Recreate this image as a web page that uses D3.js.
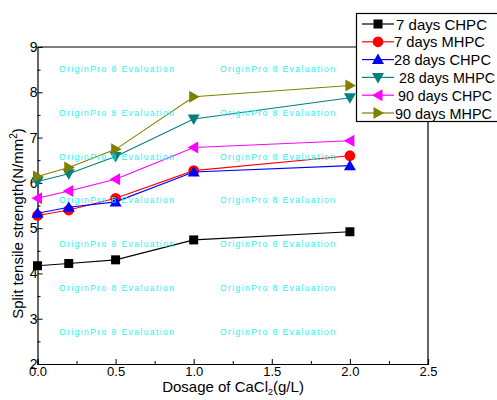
<!DOCTYPE html>
<html>
<head>
<meta charset="utf-8">
<script src="https://cdn.jsdelivr.net/npm/d3@7"></script>
<style>
  body { margin: 0; background: #fff; }
  text { font-family: Arial, "Liberation Sans", sans-serif; }
</style>
</head>
<body>
<script>
// dosage of CaCl2 (g/L)
const dosage = [0, 0.2, 0.5, 1.0, 2.0];

// split tensile strength values
const seriesNames = ['7 days CHPC', '7 days MHPC', '28 days CHPC', '28 days MHPC', '90 days CHPC', '90 days MHPC'];
const chpc7 = [4.17, 4.22, 4.30, 4.74, 4.92];
const mhpc7 = [5.28, 5.40, 5.66, 6.27, 6.60];
const chpc28 = [5.33, 5.46, 5.58, 6.24, 6.38];
const mhpc28 = [6.03, 6.20, 6.58, 7.41, 7.88];
const chpc90 = [5.66, 5.82, 6.08, 6.78, 6.93];
const mhpc90 = [6.14, 6.34, 6.74, 7.90, 8.15];

const xTicks = [0, 0.5, 1.0, 1.5, 2.0, 2.5];
const yTicks = [2, 3, 4, 5, 6, 7, 8, 9];

const W = 497, H = 400;
const LEFT = 37.5, RIGHT = 428, TOP = 47, BOTTOM = 364;

const colors = ['#000000', '#ff0000', '#0000ff', '#008080', '#ff00ff', '#808000'];
const shapes = ['square', 'circle', 'up', 'down', 'left', 'right'];
const allValues = [chpc7, mhpc7, chpc28, mhpc28, chpc90, mhpc90];

const svg = d3.select('body').append('svg')
  .attr('width', W)
  .attr('height', H);

const x = d3.scaleLinear().domain([0, 2.5]).range([LEFT, RIGHT]);
const y = d3.scaleLinear().domain([2, 9]).range([BOTTOM, TOP]);

// marker path generator, centred on 0,0
function marker(shape) {
  const s = 5.5;
  switch (shape) {
    case 'square': return `M${-4.5},${-4.5}h9v9h-9z`;
    case 'circle': return d3.symbol(d3.symbolCircle, 90)();
    case 'up': return `M0,${-s - 0.5}L${s + 0.5},${s - 1}L${-s - 0.5},${s - 1}z`;
    case 'down': return `M0,${s + 0.5}L${s + 0.5},${-s + 1}L${-s - 0.5},${-s + 1}z`;
    case 'left': return `M${-s - 0.5},0L${s - 1},${-s - 0.5}L${s - 1},${s + 0.5}z`;
    case 'right': return `M${s + 0.5},0L${-s + 1},${-s - 0.5}L${-s + 1},${s + 0.5}z`;
  }
}

// frame (top and right)
svg.append('path')
  .attr('d', `M${LEFT},${TOP}H${RIGHT}V${BOTTOM}`)
  .attr('fill', 'none')
  .attr('stroke', '#000')
  .attr('stroke-width', 1.2);

// axes
const yAxis = svg.append('g')
  .attr('transform', `translate(${LEFT},0)`)
  .call(d3.axisLeft(y).tickValues(yTicks).tickSize(-5).tickPadding(0).tickFormat(d3.format('d')));
yAxis.selectAll('text').attr('font-size', 14).attr('font-family', 'Arial, sans-serif').attr('fill', '#000');

const yMinor = svg.append('g')
  .attr('transform', `translate(${LEFT},0)`)
  .call(d3.axisLeft(y).tickValues(d3.range(2.5, 9, 1)).tickSize(-3).tickFormat(''));
yMinor.select('.domain').remove();

const xAxis = svg.append('g')
  .attr('transform', `translate(0,${BOTTOM})`)
  .call(d3.axisBottom(x).tickValues(xTicks).tickSize(-5).tickPadding(3).tickFormat(d3.format('.1f')));
xAxis.selectAll('text').attr('font-size', 13).attr('font-family', 'Arial, sans-serif').attr('fill', '#000');

const xMinor = svg.append('g')
  .attr('transform', `translate(0,${BOTTOM})`)
  .call(d3.axisBottom(x).tickValues(d3.range(0.25, 2.5, 0.5)).tickSize(-3).tickFormat(''));
xMinor.select('.domain').remove();

svg.selectAll('.domain').attr('stroke-width', 1.2);

// axis titles
svg.append('text')
  .attr('transform', `translate(23,${(TOP + BOTTOM) / 2 + 18}) rotate(-90)`)
  .attr('text-anchor', 'middle')
  .attr('font-size', 15)
  .html('Split tensile strength(N/mm<tspan dy="-6" font-size="10">2</tspan><tspan dy="6">)</tspan>');

svg.append('text')
  .attr('x', 233)
  .attr('y', 392)
  .attr('text-anchor', 'middle')
  .attr('font-size', 15)
  .html('Dosage of CaCl<tspan dy="3" font-size="9">2</tspan><tspan dy="-3">(g/L)</tspan>');

// series lines + markers
const line = d3.line().x((d, i) => x(dosage[i])).y(d => y(d));

allValues.forEach((vals, k) => {
  const g = svg.append('g');
  g.append('path')
    .datum(vals)
    .attr('d', line)
    .attr('fill', 'none')
    .attr('stroke', colors[k])
    .attr('stroke-width', 1.1);
  g.selectAll('path.mk')
    .data(vals)
    .enter()
    .append('path')
      .attr('class', 'mk')
      .attr('d', marker(shapes[k]))
      .attr('transform', (d, i) => `translate(${x(dosage[i])},${y(d)})`)
      .attr('fill', colors[k]);
});

// evaluation watermarks
const wmRows = [69, 113, 157, 200, 244, 288, 332];
const wmCols = [59, 220];
wmRows.forEach(r => {
  wmCols.forEach(c => {
    svg.append('text')
      .attr('x', c)
      .attr('y', r + 3)
      .attr('font-size', 8.5)
      .attr('fill', '#22f4f4')
      .attr('textLength', 115)
      .attr('lengthAdjust', 'spacing')
      .text('OriginPro 8 Evaluation');
  });
});

// legend
const legend = svg.append('g');
legend.append('rect')
  .attr('x', 356.5)
  .attr('y', 13.5)
  .attr('width', 145)
  .attr('height', 108)
  .attr('fill', '#fff')
  .attr('stroke', '#000')
  .attr('stroke-width', 1.2);

// text start and width of each legend entry, as placed in the original
const textX = [396, 394, 394, 399, 398, 395];
const textW = [91, 91, 97, 96, 94, 97];
seriesNames.forEach((name, k) => {
  const ly = 24 + k * 17.8;
  legend.append('line')
    .attr('x1', 362).attr('x2', 394)
    .attr('y1', ly).attr('y2', ly)
    .attr('stroke', colors[k])
    .attr('stroke-width', 1.2);
  legend.append('path')
    .attr('d', marker(shapes[k]))
    .attr('transform', `translate(378,${ly})`)
    .attr('fill', colors[k]);
  legend.append('text')
    .attr('x', textX[k])
    .attr('y', ly + 5.5)
    .attr('font-size', 15)
    .attr('textLength', textW[k])
    .attr('lengthAdjust', 'spacingAndGlyphs')
    .text(name);
});
</script>
</body>
</html>
